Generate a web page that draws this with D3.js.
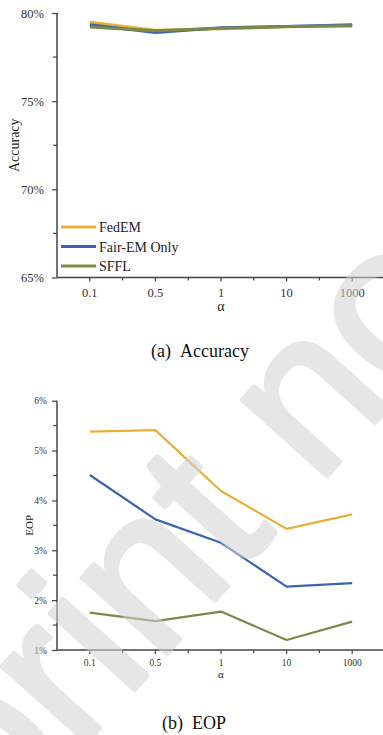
<!DOCTYPE html>
<html>
<head>
<meta charset="utf-8">
<script src="https://cdn.jsdelivr.net/npm/d3@7"></script>
<style>
  body { margin: 0; background: #fff; }
</style>
</head>
<body>
<div id="canvas"></div>
<script>
// alpha values on the x axis
var alphas = ["0.1", "0.5", "1", "10", "1000"];
var methods = ["FedEM", "Fair-EM Only", "SFFL"];
var colors = ["#e6b03a", "#3a66b0", "#7a8a4a"];

// accuracy (%) per method
var accFedEM = [79.48, 79.02, 79.10, 79.22, 79.28];
var accFairEM = [79.33, 78.90, 79.17, 79.24, 79.33];
var accSFFL = [79.20, 79.00, 79.13, 79.23, 79.28];
var accTicks = [65, 70, 75, 80];

// EOP (%) per method
var eopFedEM = [5.38, 5.41, 4.19, 3.43, 3.72];
var eopFairEM = [4.51, 3.62, 3.15, 2.27, 2.34];
var eopSFFL = [1.75, 1.58, 1.77, 1.20, 1.57];
var eopTicks = [1, 2, 3, 4, 5, 6];

var width = 383;
var height = 735;
var serif = "'Liberation Serif', 'Times New Roman', serif";

var svg = d3.select('#canvas')
  .append("svg")
  .attr("width", width)
  .attr("height", height)
  .style("font-family", serif);

// draws one panel
function drawPanel(opt) {
  var x = d3.scaleBand().domain(alphas).range([57, 385]);
  var y = d3.scaleLinear().domain(opt.domain).range([opt.bottom, opt.top]);
  var g = svg.append("g");

  // minor ticks on y (halfway between majors)
  var minorY = [];
  for (var i = 0; i < opt.ticks.length - 1; i++) minorY.push((opt.ticks[i] + opt.ticks[i + 1]) / 2);
  g.selectAll(".ym").data(minorY).enter().append("line")
    .attr("x1", 53).attr("x2", 57)
    .attr("y1", d => y(d)).attr("y2", d => y(d))
    .attr("stroke", "#444").attr("stroke-width", 1.2);

  // y axis
  g.append("g")
    .attr("transform", "translate(57,0)")
    .call(d3.axisLeft(y).tickValues(opt.ticks).tickSize(5).tickPadding(opt.ypad).tickFormat(d => d + "%"))
    .call(a => a.select(".domain").attr("stroke", "#444").attr("stroke-width", 1.5).attr("d", "M0," + opt.top + "V" + opt.bottom))
    .call(a => a.selectAll(".tick line").attr("stroke", "#444").attr("stroke-width", 1.2))
    .call(a => a.selectAll("text").style("font-family", serif).attr("font-size", opt.tickFont).attr("fill", "#333"));

  // x minor ticks at band edges
  var edges = alphas.slice(1).map(d => x(d));
  g.selectAll(".xm").data(edges).enter().append("line")
    .attr("x1", d => d).attr("x2", d => d)
    .attr("y1", opt.bottom).attr("y2", opt.bottom + 3)
    .attr("stroke", "#444").attr("stroke-width", 1.2);

  // x axis
  g.append("g")
    .attr("transform", "translate(0," + opt.bottom + ")")
    .call(d3.axisBottom(x).tickSize(4).tickPadding(opt.xpad))
    .call(a => a.select(".domain").attr("stroke", "#444").attr("stroke-width", 1.5).attr("d", "M57,0H385"))
    .call(a => a.selectAll(".tick line").attr("stroke", "#444").attr("stroke-width", 1.2))
    .call(a => a.selectAll("text").style("font-family", serif).attr("font-size", opt.tickFont).attr("fill", "#333"));

  // axis titles
  g.append("text")
    .attr("transform", "translate(" + opt.ylabX + "," + ((opt.top + opt.bottom) / 2) + ") rotate(-90)")
    .attr("text-anchor", "middle")
    .attr("font-size", opt.labFont)
    .attr("fill", "#222")
    .text(opt.ylabel);
  g.append("text")
    .attr("x", x("1") + x.bandwidth() / 2)
    .attr("y", opt.alphaY)
    .attr("text-anchor", "middle")
    .attr("font-size", opt.labFont)
    .attr("fill", "#222")
    .text("α");

  // lines
  var line = d3.line()
    .x((d, i) => x(alphas[i]) + x.bandwidth() / 2)
    .y(d => y(d));
  opt.series.forEach((s, k) => {
    g.append("path")
      .datum(s)
      .attr("d", line)
      .attr("fill", "none")
      .attr("stroke", colors[k])
      .attr("stroke-width", opt.lw)
      .attr("stroke-linejoin", "round");
  });

  // caption
  svg.append("text")
    .attr("x", opt.capX)
    .attr("y", opt.capY)
    .attr("text-anchor", "middle")
    .attr("font-size", 18)
    .attr("fill", "#111")
    .text(opt.caption);
}

drawPanel({
  domain: [65, 80], top: 13, bottom: 277.5, ticks: accTicks,
  series: [accFedEM, accFairEM, accSFFL],
  ypad: 8, xpad: 7, tickFont: 12.5, labFont: 14,
  ylabel: "Accuracy", ylabX: 19, alphaY: 311, lw: 3,
  caption: "(a)\u00a0\u00a0Accuracy", capX: 200, capY: 357
});

drawPanel({
  domain: [1, 6], top: 400.7, bottom: 650, ticks: eopTicks,
  series: [eopFedEM, eopFairEM, eopSFFL],
  ypad: 5, xpad: 5, tickFont: 9.5, labFont: 11,
  ylabel: "EOP", ylabX: 33, alphaY: 678, lw: 2.2,
  caption: "(b)\u00a0\u00a0EOP", capX: 194, capY: 729
});

// legend (top panel)
var legend = svg.append("g").selectAll("g").data(methods).enter().append("g")
  .attr("transform", (d, i) => "translate(0," + (227 + i * 19.5) + ")");
legend.append("line")
  .attr("x1", 61).attr("x2", 96)
  .attr("stroke", (d, i) => colors[i])
  .attr("stroke-width", 3);
legend.append("text")
  .attr("x", 99).attr("y", 5)
  .attr("font-size", 14)
  .attr("fill", "#222")
  .text(d => d);

// watermark on top, semi transparent
var wm = svg.append("g")
  .attr("transform", "translate(297,509) rotate(-48)")
  .attr("opacity", 0.55)
  .style("font-family", "'Liberation Sans', Arial, sans-serif")
  .attr("font-size", 215)
  .attr("fill", "#d2d2d2")
  .attr("stroke", "#d2d2d2")
  .attr("stroke-width", 5)
  .attr("stroke-linejoin", "round");
wm.append("text")
  .attr("x", -30).attr("text-anchor", "end")
  .text("Preprint");
wm.append("text")
  .attr("x", 30).attr("text-anchor", "start")
  .text("not peer reviewed");
</script>
</body>
</html>
